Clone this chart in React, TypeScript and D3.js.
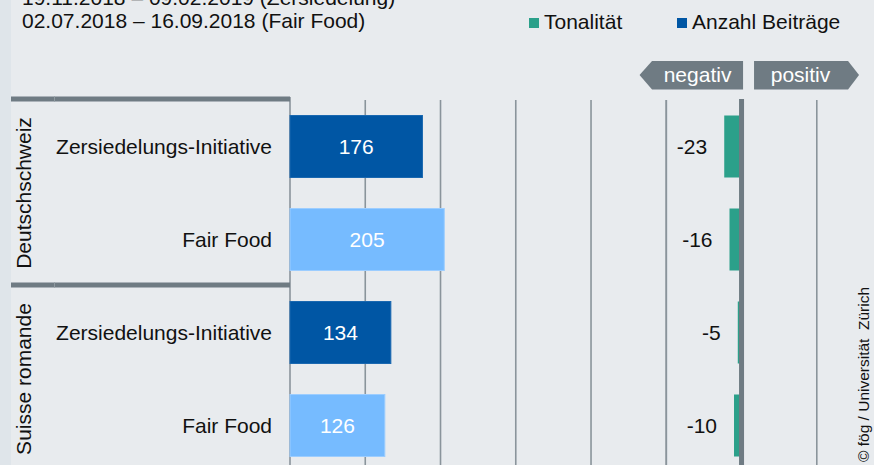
import * as d3 from 'd3';

const W = 874, H = 465;
const FONT = '"Liberation Sans", Arial, sans-serif';

// data
const titleLines = ['19.11.2018 – 09.02.2019 (Zersiedelung)', '02.07.2018 – 16.09.2018 (Fair Food)'];
const groups = ['Deutschschweiz', 'Suisse romande'];
const categories = ['Zersiedelungs-Initiative', 'Fair Food'];
const beitraege = [176, 205, 134, 126];
const tonalitaet = [-23, -16, -5, -10];
const countTicks = [0, 100, 200, 300, 400, 500];
const toneTicks = [-100, 0, 100];
const legendItems = ['Tonalität', 'Anzahl Beiträge'];

const COL = {
  bg: '#e8ebee',
  strip: '#dfe5ea',
  dark: '#0056a4',
  light: '#76bbff',
  teal: '#2ba08a',
  line: '#6f7b83',
  grid: '#8a949b',
};

const rows = groups.flatMap((g, gi) =>
  categories.map((c, ci) => ({
    key: `${gi}-${ci}`,
    group: g,
    cat: c,
    ci,
    count: beitraege[gi * categories.length + ci],
    tone: tonalitaet[gi * categories.length + ci],
  }))
);

export default function App() {
  const top = 100;
  const step = 93;
  const yScale = d3
    .scaleBand()
    .domain(rows.map(r => r.key))
    .range([top, top + rows.length * step])
    .paddingInner(1 / 3)
    .paddingOuter(1 / 6);

  const xCount = d3.scaleLinear().domain([0, 700]).range([290, 816.8]);
  const xTone = d3.scaleLinear().domain([-100, 100]).range([xCount(500), xCount(700)]);
  const z = xTone(0);

  const groupH = categories.length * step;
  const bw = yScale.bandwidth();

  return (
    <svg
      width={W}
      height={H}
      style={{ position: 'absolute', left: 0, top: 0, fontFamily: FONT }}
    >
      <rect x={0} y={0} width={W} height={H} fill={COL.bg} />
      <rect x={0} y={0} width={11} height={H} fill={COL.strip} />

      {/* title */}
      {titleLines.map((t, i) => (
        <text key={i} x={22} y={5 + i * 23} fontSize={21} fill="#111">
          {t}
        </text>
      ))}

      {/* legend */}
      {legendItems.map((l, i) => {
        const lx = i === 0 ? 529 : 677;
        return (
          <g key={l}>
            <rect x={lx} y={18} width={10} height={10} fill={i === 0 ? COL.teal : COL.dark} />
            <text x={lx + 15} y={29} fontSize={21} fill="#111">
              {l}
            </text>
          </g>
        );
      })}

      {/* negativ / positiv badges */}
      <polygon
        points={`${z - 102},75 ${z - 89.5},61 ${z + 1.5},61 ${z + 1.5},89.5 ${z - 89.5},89.5`}
        fill={COL.line}
      />
      <text x={z - 44} y={82} fontSize={21} fill="#fff" textAnchor="middle">
        negativ
      </text>
      <polygon
        points={`${z + 12.5},61 ${z + 106.5},61 ${z + 117.5},75 ${z + 106.5},89.5 ${z + 12.5},89.5`}
        fill={COL.line}
      />
      <text x={z + 59} y={82} fontSize={21} fill="#fff" textAnchor="middle">
        positiv
      </text>

      {/* grid lines */}
      {countTicks.map(t => (
        <line
          key={`c${t}`}
          x1={xCount(t)}
          x2={xCount(t)}
          y1={t === 0 ? 97 : top}
          y2={H}
          stroke={COL.grid}
          strokeWidth={1.6}
        />
      ))}
      {toneTicks
        .filter(t => t !== 0)
        .map(t => (
          <line
            key={`t${t}`}
            x1={xTone(t)}
            x2={xTone(t)}
            y1={top}
            y2={H}
            stroke={COL.grid}
            strokeWidth={1.6}
          />
        ))}

      {/* group panel lines */}
      {groups.map((g, gi) => {
        const gy = top + gi * groupH;
        return (
          <g key={g}>
            <rect x={11} y={gy - 3.5} width={279} height={5} fill={COL.line} />
            <rect x={54} y={gy - 3.5} width={1} height={5} fill="#8e999f" />
            <text
              transform={`translate(31,${gy + groupH / 2}) rotate(-90)`}
              textAnchor="middle"
              fontSize={21}
              fill="#111"
            >
              {g}
            </text>
          </g>
        );
      })}

      {/* rows */}
      {rows.map(r => {
        const y = yScale(r.key) ?? 0;
        const cy = y + bw / 2;
        const x0 = Math.min(xTone(r.tone), z);
        return (
          <g key={r.key}>
            <text x={272} y={cy} dy="0.35em" textAnchor="end" fontSize={21} fill="#111">
              {r.cat}
            </text>
            <rect
              x={xCount(0)}
              y={y}
              width={xCount(r.count) - xCount(0)}
              height={bw}
              fill={r.ci === 0 ? COL.dark : COL.light}
              stroke={r.ci === 0 ? '#1a68b0' : '#9ccdff'}
              strokeWidth={1}
            />
            <text
              x={(xCount(0) + xCount(r.count)) / 2}
              y={cy}
              dy="0.35em"
              textAnchor="middle"
              fontSize={21}
              fill="#fff"
            >
              {r.count}
            </text>
            <rect x={x0} y={y} width={Math.abs(xTone(r.tone) - z)} height={bw} fill={COL.teal} />
            <text x={xTone(r.tone) - 17} y={cy} dy="0.35em" textAnchor="end" fontSize={21} fill="#111">
              {r.tone}
            </text>
          </g>
        );
      })}

      {/* zero line of tonality */}
      <rect x={z - 2.5} y={99} width={5} height={H - 99} fill={COL.line} />

      <text
        transform={`translate(869,${H - 3}) rotate(-90)`}
        fontSize={15.5}
        fill="#111"
        style={{ whiteSpace: 'pre' }}
      >
        {'© fög / Universität  Zürich'}
      </text>
    </svg>
  );
}
